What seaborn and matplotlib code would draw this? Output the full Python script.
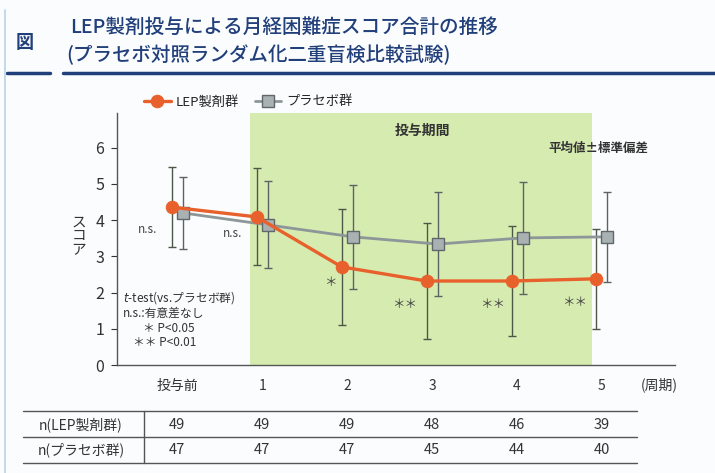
import numpy as np
import pandas as pd
import matplotlib.pyplot as plt
import seaborn as sns
from matplotlib.lines import Line2D
from matplotlib.transforms import blended_transform_factory

# data
cycles = ['投与前', '1', '2', '3', '4', '5']
lep_mean = [4.36, 4.09, 2.71, 2.32, 2.32, 2.38]
lep_sd = [1.10, 1.34, 1.60, 1.60, 1.52, 1.38]
pla_mean = [4.20, 3.87, 3.54, 3.34, 3.51, 3.54]
pla_sd = [1.00, 1.20, 1.44, 1.43, 1.55, 1.25]
n_lep = [49, 49, 49, 48, 46, 39]
n_pla = [47, 47, 47, 45, 44, 40]
sig_marks = ['n.s.', 'n.s.', '＊', '＊＊', '＊＊', '＊＊']

sns.set_style('white')
plt.rcParams['font.family'] = ['Noto Sans CJK JP', 'DejaVu Sans']

dodge = 0.065
x = np.arange(len(cycles))
df = pd.DataFrame({
    'x': np.concatenate([x - dodge, x + dodge]),
    'mean': lep_mean + pla_mean,
    'sd': lep_sd + pla_sd,
    'group': ['LEP製剤群'] * len(x) + ['プラセボ群'] * len(x),
})
lep = df[df.group == 'LEP製剤群']
pla = df[df.group == 'プラセボ群']

fig = plt.figure(figsize=(7.15, 4.73), dpi=100, facecolor='#fbfcfd')
ax = fig.add_axes([117 / 715, 108 / 473, 558 / 715, 252 / 473])
ax.set_facecolor('none')

# treatment period shading
ax.axvspan(0.86, 4.88, color='#d6ebb0', zorder=0, lw=0)

ax.errorbar(lep.x, lep['mean'], yerr=lep.sd, fmt='none', ecolor='#4d5747',
            elinewidth=1, capsize=3, capthick=1, zorder=2)
ax.errorbar(pla.x, pla['mean'], yerr=pla.sd, fmt='none', ecolor='#5c6365',
            elinewidth=1, capsize=3, capthick=1, zorder=2)

sns.lineplot(data=pla, x='x', y='mean', ax=ax, color='#8d9698', lw=2,
             marker='s', markersize=8, markerfacecolor='#a9b1b3',
             markeredgecolor='#5f6769', markeredgewidth=1,
             label='プラセボ群', zorder=3)
sns.lineplot(data=lep, x='x', y='mean', ax=ax, color='#e8612c', lw=2.4,
             marker='o', markersize=9, markerfacecolor='#e8612c',
             markeredgecolor='#e8612c', label='LEP製剤群', zorder=4)

ax.set_xlim(-0.71, 5.86)
ax.set_ylim(0, 6.96)
ax.set_xticks(x)
ax.set_xticklabels(cycles)
ax.set_yticks(range(7))
ax.set_xlabel('')
ax.set_ylabel('')
sns.despine(ax=ax)
for s in ['left', 'bottom']:
    ax.spines[s].set_color('#555555')
    ax.spines[s].set_linewidth(1)
ax.tick_params(axis='x', direction='in', length=4, pad=10, labelsize=10,
               colors='#333333')
ax.tick_params(axis='y', direction='out', length=4, pad=5, labelsize=11.5,
               colors='#333333', left=True)
ax.text(-1.16, 3.56, 'ス\nコ\nア', fontsize=10.5, color='#333333',
        ha='center', va='center', linespacing=1.0, clip_on=False)
ax.text(5.68, -0.55, '(周期)', fontsize=10, color='#333333', ha='center',
        va='center', clip_on=False)

# legend on top
h, l = ax.get_legend_handles_labels()
order = [l.index('LEP製剤群'), l.index('プラセボ群')]
ax.legend([h[i] for i in order], [l[i] for i in order], ncol=2,
          loc='center left', bbox_to_anchor=(0.185, 1 - 102 / 473),
          bbox_transform=fig.transFigure, frameon=False, fontsize=9.5,
          handlelength=2.0, handletextpad=0.4, columnspacing=1.2)

# significance marks
sig_xy = [(-0.35, 3.73), (0.65, 3.62), (1.80, 2.29),
          (2.68, 1.66), (3.71, 1.66), (4.68, 1.74)]
for (sx, sy), m in zip(sig_xy, sig_marks):
    ax.text(sx, sy, m, fontsize=8.5 if m == 'n.s.' else 9, color='#444444',
            ha='center', va='center')

ax.text(2.89, 6.46, '投与期間', fontsize=10, fontweight='bold',
        color='#333333', ha='center', va='center')
ax.text(5.55, 6.0, '平均値±標準偏差', fontsize=9, fontweight='bold',
        color='#333333', ha='right', va='center')

ax.text(-0.64, 1.85, r'$t$-test(vs.プラセボ群)', fontsize=8.5,
        color='#333333', va='center')
ax.text(-0.64, 1.44, 'n.s.:有意差なし', fontsize=8.5, color='#333333',
        va='center')
ax.text(-0.40, 1.02, '＊ P<0.05', fontsize=8.5, color='#333333', va='center')
ax.text(-0.52, 0.61, '＊＊ P<0.01', fontsize=8.5, color='#333333',
        va='center')

# title block
navy = '#213f7a'
fig.text(25 / 715, 1 - 43 / 473, '図', fontsize=13, color=navy,
         ha='center', va='center', fontweight='bold')
fig.text(70 / 715, 1 - 27 / 473, 'LEP製剤投与による月経困難症スコア合計の推移',
         fontsize=14.1, color=navy, va='center', fontweight='medium')
fig.text(66 / 715, 1 - 55 / 473, '(プラセボ対照ランダム化二重盲検比較試験)',
         fontsize=14, color=navy, va='center', fontweight='medium')
fig.add_artist(Line2D([7 / 715, 50 / 715], [1 - 73 / 473] * 2, color=navy,
                      lw=2.5, transform=fig.transFigure))
fig.add_artist(Line2D([63 / 715, 1.0], [1 - 73 / 473] * 2, color=navy,
                      lw=2.5, transform=fig.transFigure))
fig.add_artist(Line2D([5 / 715] * 2, [0, 1 - 10 / 473], color='#b9d3e6',
                      lw=1.2, transform=fig.transFigure))

# n table below
tr = blended_transform_factory(ax.transData, fig.transFigure)
for yy in [411, 437, 463]:
    fig.add_artist(Line2D([23 / 715, 637 / 715], [1 - yy / 473] * 2,
                          color='#555555', lw=1, transform=fig.transFigure))
fig.add_artist(Line2D([144 / 715] * 2, [1 - 411 / 473, 1 - 463 / 473],
                      color='#555555', lw=1, transform=fig.transFigure))
fig.text(81 / 715, 1 - 425 / 473, 'n(LEP製剤群)', fontsize=10,
         color='#333333', ha='center', va='center')
fig.text(81 / 715, 1 - 450 / 473, 'n(プラセボ群)', fontsize=10,
         color='#333333', ha='center', va='center')
for xi, a, b in zip(x, n_lep, n_pla):
    ax.text(xi, 1 - 425 / 473, str(a), transform=tr, fontsize=10.5,
            color='#333333', ha='center', va='center')
    ax.text(xi, 1 - 450 / 473, str(b), transform=tr, fontsize=10.5,
            color='#333333', ha='center', va='center')

fig.savefig('out.png', dpi=100, facecolor=fig.get_facecolor())
